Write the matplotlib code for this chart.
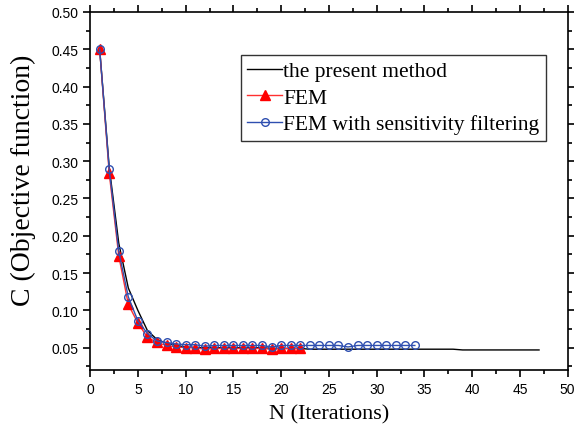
import numpy as np
import matplotlib.pyplot as plt
from matplotlib.ticker import MultipleLocator

# Datos
n_present = list(range(1, 48))
c_present = [0.450, 0.292, 0.190, 0.130, 0.100, 0.073, 0.061, 0.056, 0.053, 0.051,
             0.050, 0.050, 0.050, 0.050, 0.050, 0.050, 0.050, 0.050, 0.049, 0.049,
             0.049, 0.049, 0.048, 0.048, 0.048, 0.048, 0.048, 0.048, 0.048, 0.048,
             0.048, 0.048, 0.048, 0.048, 0.048, 0.048, 0.048, 0.048, 0.047, 0.047,
             0.047, 0.047, 0.047, 0.047, 0.047, 0.047, 0.047]

n_fem = list(range(1, 23))
c_fem = [0.450, 0.284, 0.173, 0.108, 0.083, 0.064, 0.057, 0.053, 0.051, 0.050,
         0.050, 0.048, 0.049, 0.049, 0.049, 0.049, 0.049, 0.049, 0.048, 0.049,
         0.049, 0.049]

n_filt = list(range(1, 35))
c_filt = [0.450, 0.289, 0.179, 0.118, 0.086, 0.069, 0.059, 0.057, 0.055, 0.054,
          0.054, 0.052, 0.053, 0.053, 0.053, 0.053, 0.053, 0.053, 0.051, 0.053,
          0.053, 0.053, 0.053, 0.053, 0.053, 0.053, 0.051, 0.053, 0.053, 0.053,
          0.053, 0.053, 0.053, 0.053]

fig = plt.figure(figsize=(5.74, 4.31), dpi=100)
ax = fig.add_axes([0.157, 0.139, 0.832, 0.831])

ax.plot(n_present, c_present, color='black', linewidth=1.0, label='the present method')
ax.plot(n_fem, c_fem, color='#ff3030', linewidth=1.0, marker='^', markersize=6.5,
        markerfacecolor='#ff0000', markeredgecolor='#ff0000', label='FEM')
ax.plot(n_filt, c_filt, color='#2f4fb0', linewidth=1.0, marker='o', markersize=5.5,
        markerfacecolor='none', markeredgecolor='#2f4fb0', markeredgewidth=1.0,
        label='FEM with sensitivity filtering')

ax.set_xlim(0, 50)
ax.set_ylim(0.02, 0.50)
ax.xaxis.set_major_locator(MultipleLocator(5))
ax.xaxis.set_minor_locator(MultipleLocator(2.5))
ax.yaxis.set_major_locator(MultipleLocator(0.05))
ax.yaxis.set_minor_locator(MultipleLocator(0.025))
ax.yaxis.set_major_formatter(plt.FormatStrFormatter('%.2f'))

ax.tick_params(which='both', top=True, right=True, direction='out', width=1.2,
               labelsize=10, labelfontfamily='Liberation Sans')
ax.tick_params(which='major', length=5)
ax.tick_params(which='minor', length=3)
for lado in ['top', 'right', 'bottom', 'left']:
    ax.spines[lado].set_linewidth(1.2)

ax.set_xlabel('N (Iterations)', fontfamily='Liberation Serif', fontsize=16, labelpad=6)
ax.set_ylabel('C (Objective function)', fontfamily='Liberation Serif', fontsize=20)
ax.yaxis.set_label_coords(-0.113, 0.534)

leg = ax.legend(loc='upper left', bbox_to_anchor=(0.316, 0.88), prop={'family': 'Liberation Serif', 'size': 15.5},
                frameon=True, fancybox=False, edgecolor='black', handlelength=1.6,
                handletextpad=0.05, borderpad=0.3, labelspacing=0.3, borderaxespad=0)
leg.get_frame().set_linewidth(1.0)

plt.savefig('out.png', dpi=100)
